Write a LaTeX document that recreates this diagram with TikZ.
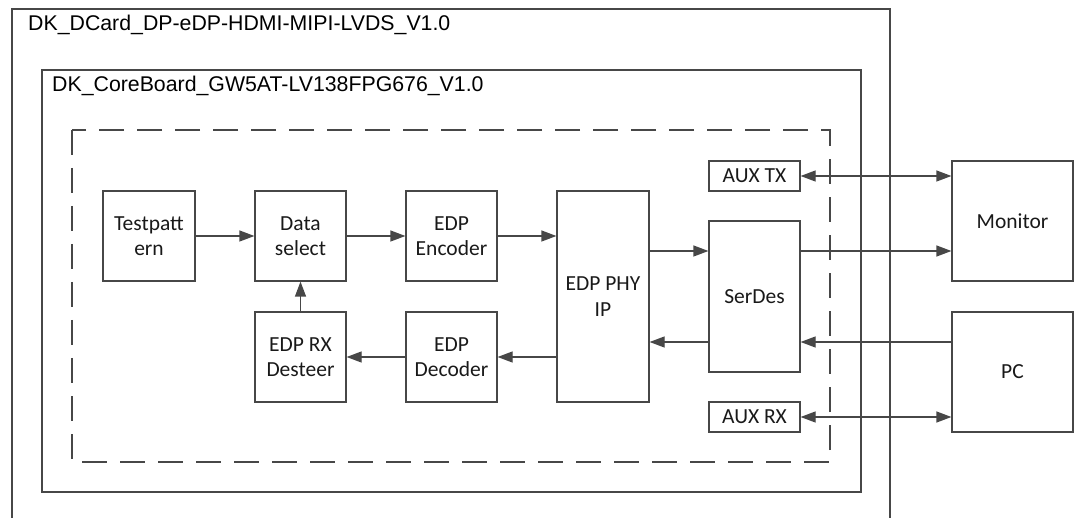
\documentclass[tikz,border=0pt]{standalone}
\usepackage{fontspec}
\setmainfont{Carlito}
\newfontfamily\titlefont{Liberation Sans}
\usetikzlibrary{arrows.meta,calc}
\definecolor{ln}{HTML}{474747}
\tikzset{
  blk/.style={draw=ln,line width=1.2pt,rectangle,inner sep=0pt,align=center,
    font=\fontsize{21.5}{25.5}\selectfont,text=black!90},
  arr/.style={draw=ln,line width=1.2pt,-{Triangle[length=15pt,width=11pt]}},
  darr/.style={draw=ln,line width=1.2pt,{Triangle[length=15pt,width=11pt]}-{Triangle[length=15pt,width=11pt]}},
  frame/.style={draw=ln,line width=1.2pt},
  ttl/.style={anchor=west,inner sep=0pt,font=\titlefont\fontsize{21.3}{25}\selectfont,text=black}
}
\begin{document}
\begin{tikzpicture}[x=1pt,y=-1pt]
\useasboundingbox (0,0) rectangle (1076,518);
% outer card (open at the bottom)
\draw[frame] (12,530) -- (12,9) -- (890,9) -- (890,530);
\node[ttl] (t1) at (28,25) {DK\_DCard\_DP-eDP-HDMI-MIPI-LVDS\_V1.0};
% core board
\draw[frame] (42,70) rectangle (861,492);
\node[ttl] (t2) at (52,86) {DK\_CoreBoard\_GW5AT-LV138FPG676\_V1.0};
% FPGA dashed region
\draw[frame,dash pattern=on 25pt off 13pt] (72,130) rectangle (830,462);
% blocks
\node[blk,minimum width=92pt,minimum height=90pt] (tp) at (149,236) {Testpatt\\ern};
\node[blk,minimum width=91pt,minimum height=90pt] (ds) at (300.5,236) {Data\\select};
\node[blk,minimum width=91pt,minimum height=90pt] (enc) at (451.5,236) {EDP\\Encoder};
\node[blk,minimum width=91pt,minimum height=90pt] (rx) at (300.5,357) {EDP RX\\Desteer};
\node[blk,minimum width=91pt,minimum height=90pt] (dec) at (451.5,357) {EDP\\Decoder};
\node[blk,minimum width=92pt,minimum height=211pt] (phy) at (603,296.5) {EDP PHY\\IP};
\node[blk,minimum width=91pt,minimum height=151pt] (ser) at (754.5,296.5) {SerDes};
\node[blk,minimum width=91pt,minimum height=30pt] (atx) at (754.5,176) {AUX TX};
\node[blk,minimum width=91pt,minimum height=30pt] (arx) at (754.5,417) {AUX RX};
\node[blk,minimum width=121pt,minimum height=120pt] (mon) at (1012.5,221) {Monitor};
\node[blk,minimum width=121pt,minimum height=120pt] (pc) at (1012.5,372) {PC};
% connectors
\draw[arr] (tp) -- (ds);
\draw[arr] (ds) -- (enc);
\draw[arr] (enc.east) -- (enc.east -| phy.west);
\draw[arr] ([yshift=45.5pt]phy.east) -- ([yshift=45.5pt]ser.west);
\draw[arr] ([yshift=45.5pt]ser.east) -- ([yshift=45.5pt]ser.east -| mon.west);
\draw[arr] ([yshift=-45.5pt]ser.west) -- ([yshift=-45.5pt]phy.east);
\draw[arr] ([yshift=-45.5pt]ser.east -| pc.west) -- ([yshift=-45.5pt]ser.east);
\draw[arr] (dec.east -| phy.west) -- (dec.east);
\draw[arr] (dec) -- (rx);
\draw[arr] (rx) -- (ds);
\draw[darr] (atx.east) -- (atx.east -| mon.west);
\draw[darr] (arx.east) -- (arx.east -| pc.west);
\end{tikzpicture}
\end{document}
